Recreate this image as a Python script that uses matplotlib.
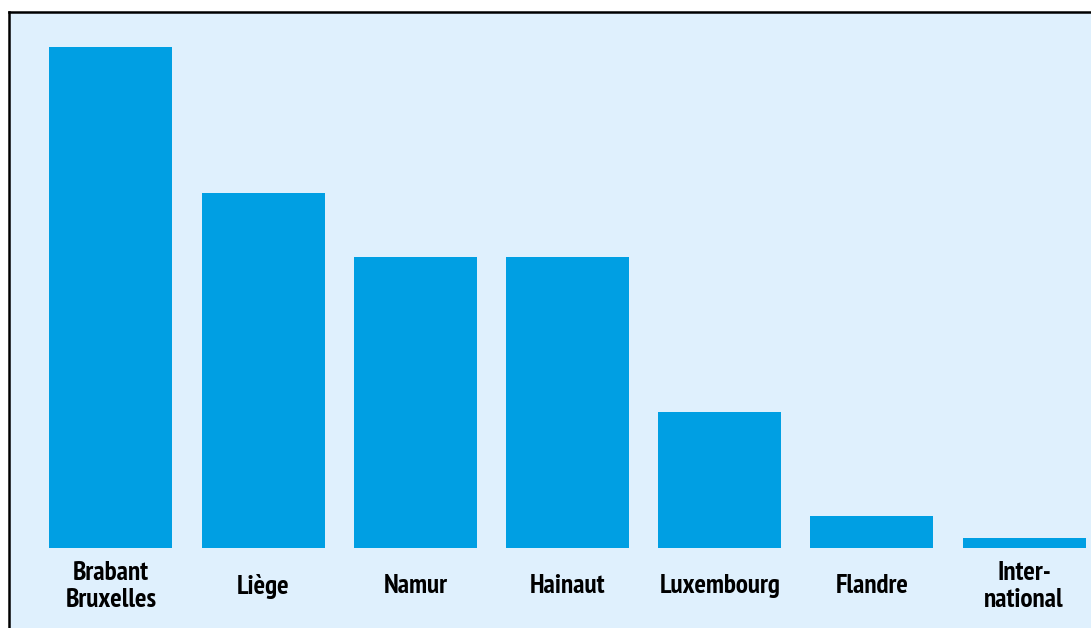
import matplotlib
matplotlib.use("Agg")
import matplotlib.pyplot as plt

categories = ["Brabant\nBruxelles", "Liège", "Namur", "Hainaut", "Luxembourg", "Flandre", "Inter-\nnational"]
values = [31, 22, 18, 18, 8.4, 2, 0.6]

bar_color = "#009fe3"
bg_color = "#dff0fd"

W, H = 1091, 628
fig = plt.figure(figsize=(W / 100, H / 100), dpi=100)
fig.patch.set_facecolor("white")
ax = fig.add_axes([9 / W, 0, 1 - 9 / W, (H - 12) / H])
ax.set_facecolor(bg_color)

x = list(range(len(categories)))
ax.bar(x, values, width=0.808, color=bar_color, zorder=2)

ax.set_xlim(-0.6695, 6.4396)
ax.set_ylim(-4.95, 33.17)

for s in ["right", "bottom"]:
    ax.spines[s].set_visible(False)
for s in ["top", "left"]:
    ax.spines[s].set_linewidth(1.8)
    ax.spines[s].set_color("black")
ax.set_xticks([])
ax.set_yticks([])

for xi, lab in zip(x, categories):
    ax.text(xi, -2.38, lab, ha="center", va="center", fontsize=19.5,
            fontweight="bold", family=["PT Sans Narrow", "DejaVu Sans"],
            linespacing=1.15, color="black")

fig.savefig("out.png", dpi=100, facecolor="white")
